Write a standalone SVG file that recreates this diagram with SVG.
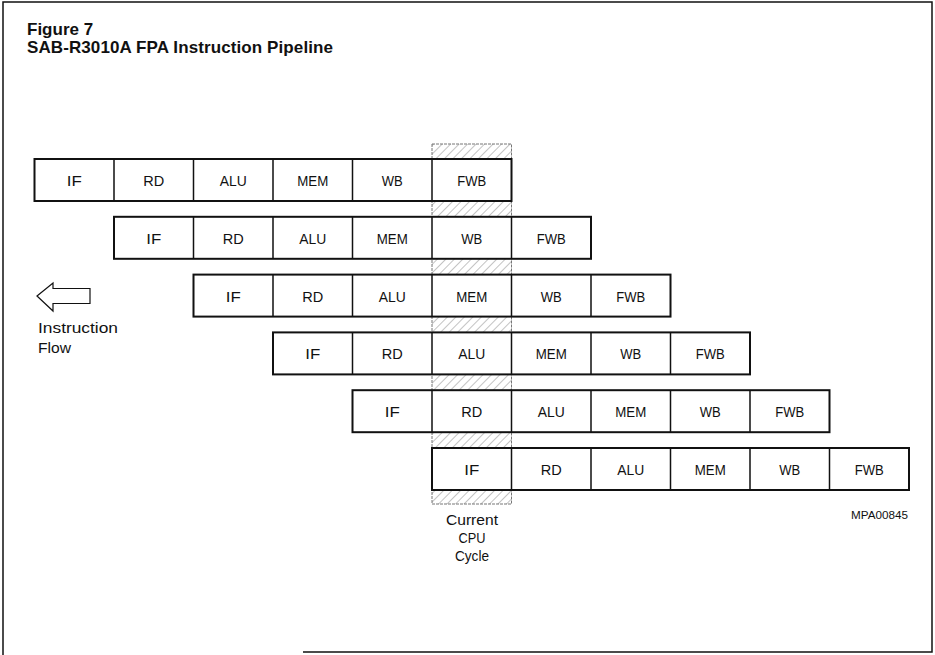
<svg xmlns="http://www.w3.org/2000/svg" width="935" height="655" viewBox="0 0 935 655">
<style>
.frame{fill:none;stroke:#111;stroke-width:1.5}
.cell{fill:#fff;stroke:#111;stroke-width:2}
.div{stroke:#111;stroke-width:1.5}
.lbl{font-family:"Liberation Sans",Arial,sans-serif;font-size:15px;fill:#111;text-anchor:middle}
.title{font-family:"Liberation Sans",Arial,sans-serif;font-size:17px;font-weight:bold;fill:#111}
.note{font-family:"Liberation Sans",Arial,sans-serif;font-size:15px;fill:#111}
.small{font-family:"Liberation Sans",Arial,sans-serif;font-size:11px;fill:#111}
</style>
<defs>
<pattern id="hatch" width="6" height="6" patternUnits="userSpaceOnUse" patternTransform="rotate(45)">
<line x1="0" y1="0" x2="0" y2="6" stroke="#888" stroke-width="1"/>
</pattern>
</defs>
<rect width="935" height="655" fill="#fff"/>
<g id="border">
<path class="frame" d="M3,655 V2 H932 V652 H303"/>
</g>
<g id="title">
<text class="title" x="27" y="35">Figure 7</text>
<text class="title" x="27" y="53" textLength="306" lengthAdjust="spacing">SAB-R3010A FPA Instruction Pipeline</text>
</g>
<g id="cpu-cycle">
<rect x="432" y="144" width="79.5" height="360" fill="url(#hatch)" stroke="#777" stroke-width="1" stroke-dasharray="3,1"/>
<text class="note" x="446" y="525" textLength="52" lengthAdjust="spacingAndGlyphs">Current</text>
<text class="note" x="458.5" y="543" textLength="27" lengthAdjust="spacingAndGlyphs">CPU</text>
<text class="note" x="455" y="561" textLength="34" lengthAdjust="spacingAndGlyphs">Cycle</text>
</g>
<g id="row1">
<rect class="cell" x="34.5" y="159" width="477" height="42"/>
<path class="div" d="M114,159V201M193.5,159V201M273,159V201M352.5,159V201M432,159V201"/>
<text class="lbl" x="74.25" y="186" textLength="15" lengthAdjust="spacingAndGlyphs">IF</text><text class="lbl" x="153.75" y="186" textLength="21" lengthAdjust="spacingAndGlyphs">RD</text><text class="lbl" x="233.25" y="186" textLength="27" lengthAdjust="spacingAndGlyphs">ALU</text><text class="lbl" x="312.75" y="186" textLength="31" lengthAdjust="spacingAndGlyphs">MEM</text><text class="lbl" x="392.25" y="186" textLength="21" lengthAdjust="spacingAndGlyphs">WB</text><text class="lbl" x="471.75" y="186" textLength="29" lengthAdjust="spacingAndGlyphs">FWB</text>
</g>
<g id="row2">
<rect class="cell" x="114" y="216.8" width="477" height="42"/>
<path class="div" d="M193.5,216.8V258.8M273,216.8V258.8M352.5,216.8V258.8M432,216.8V258.8M511.5,216.8V258.8"/>
<text class="lbl" x="153.75" y="243.8" textLength="15" lengthAdjust="spacingAndGlyphs">IF</text><text class="lbl" x="233.25" y="243.8" textLength="21" lengthAdjust="spacingAndGlyphs">RD</text><text class="lbl" x="312.75" y="243.8" textLength="27" lengthAdjust="spacingAndGlyphs">ALU</text><text class="lbl" x="392.25" y="243.8" textLength="31" lengthAdjust="spacingAndGlyphs">MEM</text><text class="lbl" x="471.75" y="243.8" textLength="21" lengthAdjust="spacingAndGlyphs">WB</text><text class="lbl" x="551.25" y="243.8" textLength="29" lengthAdjust="spacingAndGlyphs">FWB</text>
</g>
<g id="row3">
<rect class="cell" x="193.5" y="274.6" width="477" height="42"/>
<path class="div" d="M273,274.6V316.6M352.5,274.6V316.6M432,274.6V316.6M511.5,274.6V316.6M591,274.6V316.6"/>
<text class="lbl" x="233.25" y="301.6" textLength="15" lengthAdjust="spacingAndGlyphs">IF</text><text class="lbl" x="312.75" y="301.6" textLength="21" lengthAdjust="spacingAndGlyphs">RD</text><text class="lbl" x="392.25" y="301.6" textLength="27" lengthAdjust="spacingAndGlyphs">ALU</text><text class="lbl" x="471.75" y="301.6" textLength="31" lengthAdjust="spacingAndGlyphs">MEM</text><text class="lbl" x="551.25" y="301.6" textLength="21" lengthAdjust="spacingAndGlyphs">WB</text><text class="lbl" x="630.75" y="301.6" textLength="29" lengthAdjust="spacingAndGlyphs">FWB</text>
</g>
<g id="row4">
<rect class="cell" x="273" y="332.4" width="477" height="42"/>
<path class="div" d="M352.5,332.4V374.4M432,332.4V374.4M511.5,332.4V374.4M591,332.4V374.4M670.5,332.4V374.4"/>
<text class="lbl" x="312.75" y="359.4" textLength="15" lengthAdjust="spacingAndGlyphs">IF</text><text class="lbl" x="392.25" y="359.4" textLength="21" lengthAdjust="spacingAndGlyphs">RD</text><text class="lbl" x="471.75" y="359.4" textLength="27" lengthAdjust="spacingAndGlyphs">ALU</text><text class="lbl" x="551.25" y="359.4" textLength="31" lengthAdjust="spacingAndGlyphs">MEM</text><text class="lbl" x="630.75" y="359.4" textLength="21" lengthAdjust="spacingAndGlyphs">WB</text><text class="lbl" x="710.25" y="359.4" textLength="29" lengthAdjust="spacingAndGlyphs">FWB</text>
</g>
<g id="row5">
<rect class="cell" x="352.5" y="390.2" width="477" height="42"/>
<path class="div" d="M432,390.2V432.2M511.5,390.2V432.2M591,390.2V432.2M670.5,390.2V432.2M750,390.2V432.2"/>
<text class="lbl" x="392.25" y="417.2" textLength="15" lengthAdjust="spacingAndGlyphs">IF</text><text class="lbl" x="471.75" y="417.2" textLength="21" lengthAdjust="spacingAndGlyphs">RD</text><text class="lbl" x="551.25" y="417.2" textLength="27" lengthAdjust="spacingAndGlyphs">ALU</text><text class="lbl" x="630.75" y="417.2" textLength="31" lengthAdjust="spacingAndGlyphs">MEM</text><text class="lbl" x="710.25" y="417.2" textLength="21" lengthAdjust="spacingAndGlyphs">WB</text><text class="lbl" x="789.75" y="417.2" textLength="29" lengthAdjust="spacingAndGlyphs">FWB</text>
</g>
<g id="row6">
<rect class="cell" x="432" y="448" width="477" height="42"/>
<path class="div" d="M511.5,448V490M591,448V490M670.5,448V490M750,448V490M829.5,448V490"/>
<text class="lbl" x="471.75" y="475" textLength="15" lengthAdjust="spacingAndGlyphs">IF</text><text class="lbl" x="551.25" y="475" textLength="21" lengthAdjust="spacingAndGlyphs">RD</text><text class="lbl" x="630.75" y="475" textLength="27" lengthAdjust="spacingAndGlyphs">ALU</text><text class="lbl" x="710.25" y="475" textLength="31" lengthAdjust="spacingAndGlyphs">MEM</text><text class="lbl" x="789.75" y="475" textLength="21" lengthAdjust="spacingAndGlyphs">WB</text><text class="lbl" x="869.25" y="475" textLength="29" lengthAdjust="spacingAndGlyphs">FWB</text>
</g>
<g id="connectors">
<g id="flow-arrow">
<path d="M37,296 L53,283 V288.5 H90 V303.5 H53 V311 Z" fill="#fff" stroke="#111" stroke-width="1.2"/>
<text class="note" x="38" y="333" textLength="80" lengthAdjust="spacingAndGlyphs">Instruction</text>
<text class="note" x="38" y="353" textLength="33" lengthAdjust="spacingAndGlyphs">Flow</text>
</g>
</g>
<text class="small" x="851" y="519" textLength="57" lengthAdjust="spacingAndGlyphs">MPA00845</text>
</svg>
